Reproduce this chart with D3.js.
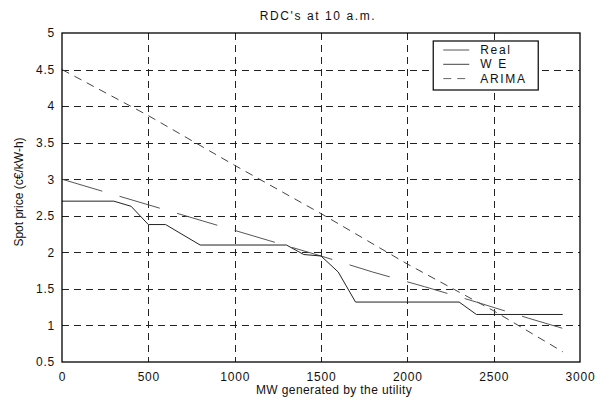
<!DOCTYPE html>
<html>
<head>
<meta charset="utf-8">
<script src="https://cdn.jsdelivr.net/npm/d3@7"></script>
<style>
  body { margin: 0; background: #fff; }
  svg text { font-family: "Liberation Sans", Arial, sans-serif; fill: #111; }
</style>
</head>
<body>
<div id="chart"></div>
<script>
// Data
const realMW = [0, 300, 400, 500, 600, 800, 1300, 1400, 1500, 1600, 1700, 2300, 2400, 2900];
const realPrice = [2.7, 2.7, 2.63, 2.38, 2.38, 2.1, 2.1, 1.97, 1.95, 1.73, 1.32, 1.32, 1.15, 1.15];

const weMW = [0, 300, 600, 900, 1200, 1500, 1800, 2100, 2400, 2700, 2900];
const wePrice = [3.0, 2.79, 2.58, 2.37, 2.16, 1.95, 1.73, 1.53, 1.32, 1.1, 0.96];

const arimaMW = [0, 500, 1000, 1500, 2000, 2500, 2900];
const arimaPrice = [4.5, 3.87, 3.19, 2.53, 1.84, 1.2, 0.64];

const xTicks = [0, 500, 1000, 1500, 2000, 2500, 3000];
const yTicks = [0.5, 1, 1.5, 2, 2.5, 3, 3.5, 4, 4.5, 5];
const legendLabels = ["Real", "W E", "ARIMA"];

const W = 597, H = 400;
const margin = { top: 33, right: 17, bottom: 38, left: 62 };
const width = W - margin.left - margin.right;
const height = H - margin.top - margin.bottom;

const svg = d3.select("#chart").append("svg")
  .attr("width", W).attr("height", H);

const g = svg.append("g")
  .attr("transform", `translate(${margin.left},${margin.top})`);

const x = d3.scaleLinear().domain([0, 3000]).range([0, width]);
const y = d3.scaleLinear().domain([0.5, 5]).range([height, 0]);

// grid
g.append("g").selectAll("line")
  .data(xTicks.slice(1, -1)).join("line")
  .attr("x1", d => Math.round(x(d)) + 0.5).attr("x2", d => Math.round(x(d)) + 0.5)
  .attr("y1", 0).attr("y2", height)
  .attr("stroke", "#222").attr("stroke-dasharray", "7,5");

g.append("g").selectAll("line")
  .data(yTicks.slice(1, -1)).join("line")
  .attr("y1", d => Math.round(y(d)) + 0.5).attr("y2", d => Math.round(y(d)) + 0.5)
  .attr("x1", 0).attr("x2", width)
  .attr("stroke", "#222").attr("stroke-dasharray", "7,5");

// axes (labels only, frame drawn separately)
const xAxis = g.append("g")
  .attr("transform", `translate(0,${height})`)
  .call(d3.axisBottom(x).tickValues(xTicks).tickSize(0).tickPadding(10).tickFormat(d3.format("d")));
const yAxis = g.append("g")
  .call(d3.axisLeft(y).tickValues(yTicks).tickSize(0).tickPadding(7).tickFormat(d => d));
[xAxis, yAxis].forEach(a => {
  a.select(".domain").remove();
  a.selectAll("text")
    .style("font-size", "12px")
    .style("letter-spacing", "0.8px")
    .attr("fill", "#111");
});

// lines
const line = d3.line().x(d => x(d[0])).y(d => y(d[1]));

g.append("path")
  .datum(d3.zip(arimaMW, arimaPrice))
  .attr("d", line)
  .attr("fill", "none").attr("stroke", "#444").attr("stroke-width", 1)
  .attr("stroke-dasharray", "8,6");

g.append("path")
  .datum(d3.zip(weMW, wePrice))
  .attr("d", line)
  .attr("fill", "none").attr("stroke", "#555").attr("stroke-width", 1)
  .attr("stroke-dasharray", "42,18");

g.append("path")
  .datum(d3.zip(realMW, realPrice))
  .attr("d", line)
  .attr("fill", "none").attr("stroke", "#222").attr("stroke-width", 1);

// frame
g.append("rect")
  .attr("x", 0).attr("y", 0).attr("width", width).attr("height", height)
  .attr("fill", "none").attr("stroke", "#000").attr("stroke-width", 1.3);

// legend
const leg = g.append("g").attr("transform", `translate(${x(2150)},8)`);
leg.append("rect")
  .attr("width", 105).attr("height", 49)
  .attr("fill", "#fff").attr("stroke", "#000").attr("stroke-width", 1.2);
const legDash = [null, null, "8,6"];
const legColor = ["#555", "#444", "#666"];
legendLabels.forEach((lab, i) => {
  const yy = 9 + i * 14.3;
  leg.append("line")
    .attr("x1", 10).attr("x2", 36).attr("y1", yy).attr("y2", yy)
    .attr("stroke", legColor[i]).attr("stroke-width", 1)
    .attr("stroke-dasharray", legDash[i]);
  leg.append("text")
    .attr("x", 47).attr("y", yy + 4)
    .style("font-size", "12px").style("letter-spacing", "1.7px")
    .text(lab);
});

// title and axis labels
svg.append("text")
  .attr("x", margin.left + width / 2 - 3).attr("y", 20)
  .attr("text-anchor", "middle")
  .style("font-size", "12px").style("letter-spacing", "1.6px")
  .text("RDC's at 10 a.m.");

svg.append("text")
  .attr("x", 334).attr("y", 394)
  .attr("text-anchor", "middle")
  .style("font-size", "12px").style("letter-spacing", "0.4px")
  .text("MW generated by the utility");

svg.append("text")
  .attr("transform", "translate(23,192) rotate(-90)")
  .attr("text-anchor", "middle")
  .style("font-size", "12px")
  .text("Spot price (c\u20AC/kW-h)");
</script>
</body>
</html>
